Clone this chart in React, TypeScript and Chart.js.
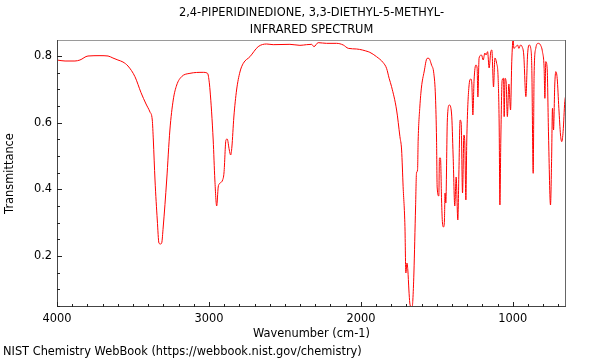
import React, { useEffect, useRef } from 'react';
import { Chart, registerables } from 'chart.js';

Chart.register(...registerables);

const TITLE_LINES = ['2,4-PIPERIDINEDIONE, 3,3-DIETHYL-5-METHYL-', 'INFRARED SPECTRUM'];
const X_TITLE = 'Wavenumber (cm-1)';
const Y_TITLE = 'Transmittance';
const SOURCE_TEXT = 'NIST Chemistry WebBook (https://webbook.nist.gov/chemistry)';

const X_MIN = 650;
const X_MAX = 4000;
const Y_MIN = 0.047;
const Y_MAX = 0.848;

const xMajorTicks = [4000, 3000, 2000, 1000];
const yMajorTicks = [0.2, 0.4, 0.6, 0.8];
const xMinorStep = 100;
const yMinorStep = 0.05;

const wavenumbers = [
  4000, 3947, 3882, 3849, 3796, 3717, 3664, 3632, 3599, 3566, 3533, 3487, 3447, 3414, 3388, 3373,
  3366, 3355, 3340, 3329, 3319, 3311, 3301, 3278, 3257, 3235, 3212, 3180, 3125, 3037, 3013, 3005,
  2993, 2972, 2961, 2949, 2939, 2932, 2910, 2901, 2888, 2880, 2866, 2857, 2849, 2836, 2818, 2796,
  2774, 2730, 2676, 2620, 2577, 2467, 2401, 2357, 2324, 2309, 2281, 2226, 2160, 2116, 2083, 2028,
  1952, 1941, 1897, 1853, 1831, 1814, 1798, 1765, 1743, 1732, 1722, 1710, 1704, 1697, 1691, 1684,
  1678, 1671, 1662, 1658, 1651, 1640, 1634, 1627, 1623, 1612, 1601, 1584, 1564, 1553, 1535, 1520,
  1509, 1502, 1498, 1487, 1483, 1476, 1469, 1463, 1456, 1450, 1446, 1441, 1431, 1418, 1403, 1393,
  1382, 1373, 1362, 1355, 1347, 1340, 1331, 1322, 1316, 1309, 1303, 1289, 1276, 1270, 1263, 1255,
  1243, 1235, 1230, 1222, 1206, 1195, 1184, 1176, 1166, 1156, 1145, 1138, 1127, 1118, 1107, 1097,
  1090, 1085, 1079, 1070, 1061, 1057, 1051, 1044, 1036, 1026, 1015, 1007, 998, 993, 980, 969,
  960, 949, 939, 928, 914, 903, 893, 882, 875, 866, 860, 849, 833, 818, 805, 794,
  789, 783, 774, 765, 752, 745, 739, 732, 724, 717, 708, 697, 686, 678, 669, 658,
  651,
];

const transmittance = [
  0.788, 0.785, 0.785, 0.788, 0.8, 0.801, 0.8, 0.794, 0.788, 0.782, 0.77, 0.738, 0.69, 0.656, 0.632, 0.608,
  0.548, 0.428, 0.308, 0.239, 0.236, 0.239, 0.287, 0.428, 0.578, 0.668, 0.713, 0.738, 0.748, 0.751, 0.749, 0.743,
  0.698, 0.548, 0.428, 0.35, 0.407, 0.416, 0.428, 0.449, 0.548, 0.551, 0.518, 0.503, 0.527, 0.617, 0.698, 0.752,
  0.778, 0.798, 0.828, 0.836, 0.834, 0.835, 0.832, 0.834, 0.835, 0.828, 0.84, 0.838, 0.838, 0.833, 0.823, 0.821,
  0.813, 0.811, 0.798, 0.78, 0.763, 0.733, 0.708, 0.638, 0.558, 0.518, 0.408, 0.288, 0.149, 0.179, 0.158, 0.098,
  0.059, 0.048, 0.048, 0.068, 0.149, 0.347, 0.449, 0.458, 0.548, 0.647, 0.707, 0.752, 0.793, 0.793, 0.773, 0.748,
  0.677, 0.548, 0.407, 0.38, 0.494, 0.494, 0.368, 0.299, 0.287, 0.308, 0.389, 0.359, 0.608, 0.653, 0.626, 0.503,
  0.35, 0.437, 0.308, 0.449, 0.608, 0.599, 0.389, 0.563, 0.539, 0.368, 0.548, 0.707, 0.731, 0.719, 0.623, 0.728,
  0.773, 0.764, 0.677, 0.794, 0.803, 0.788, 0.809, 0.803, 0.813, 0.764, 0.813, 0.818, 0.707, 0.794, 0.779, 0.737,
  0.599, 0.353, 0.548, 0.728, 0.733, 0.618, 0.733, 0.722, 0.618, 0.716, 0.638, 0.783, 0.85, 0.823, 0.828, 0.833,
  0.823, 0.833, 0.828, 0.803, 0.678, 0.803, 0.833, 0.823, 0.763, 0.448, 0.743, 0.823, 0.838, 0.833, 0.813, 0.763,
  0.673, 0.783, 0.763, 0.563, 0.353, 0.483, 0.643, 0.578, 0.713, 0.753, 0.733, 0.643, 0.563, 0.543, 0.573, 0.663,
  0.683,
];

const FONT_FAMILY = '"DejaVu Sans", sans-serif';
const FONT_SIZE = 11.4;

const framePlugin = {
  id: 'frameAndTicks',
  afterDraw(chart: any) {
    const { ctx, chartArea, scales } = chart;
    const { left, right, top, bottom } = chartArea;
    const xs = scales.x;
    const ys = scales.y;
    ctx.save();
    ctx.lineWidth = 1;
    // frame
    ctx.strokeStyle = '#9a9a9a';
    ctx.beginPath();
    ctx.moveTo(left, top + 0.5);
    ctx.lineTo(right, top + 0.5);
    ctx.stroke();
    ctx.strokeStyle = '#666';
    ctx.beginPath();
    ctx.moveTo(right - 0.5, top);
    ctx.lineTo(right - 0.5, bottom);
    ctx.stroke();
    ctx.strokeStyle = '#444';
    ctx.beginPath();
    ctx.moveTo(left + 0.5, top);
    ctx.lineTo(left + 0.5, bottom);
    ctx.moveTo(left, bottom - 0.5);
    ctx.lineTo(right, bottom - 0.5);
    ctx.stroke();
    // ticks (inward)
    ctx.strokeStyle = '#222';
    ctx.beginPath();
    for (let v = X_MAX; v >= X_MIN; v -= xMinorStep) {
      const px = Math.round(xs.getPixelForValue(v)) + 0.5;
      const len = xMajorTicks.includes(v) ? 5 : 3;
      ctx.moveTo(px, bottom);
      ctx.lineTo(px, bottom - len);
    }
    for (let k = 1; k * yMinorStep <= Y_MAX; k++) {
      const v = k * yMinorStep;
      if (v < Y_MIN) continue;
      const py = Math.round(ys.getPixelForValue(v)) + 0.5;
      const major = yMajorTicks.some((m) => Math.abs(m - v) < 1e-6);
      const len = major ? 5 : 3;
      ctx.moveTo(left, py);
      ctx.lineTo(left + len, py);
    }
    ctx.stroke();
    // title
    ctx.fillStyle = '#000';
    ctx.font = FONT_SIZE + 'px ' + FONT_FAMILY;
    ctx.textAlign = 'center';
    ctx.textBaseline = 'middle';
    const cx = (left + right) / 2;
    ctx.fillText(TITLE_LINES[0], cx, 13);
    ctx.fillText(TITLE_LINES[1], cx, 30);
    // source
    ctx.textAlign = 'left';
    ctx.fillText(SOURCE_TEXT, 3, 352.5);
    ctx.restore();
  },
};

export default function App() {
  const canvasRef = useRef<HTMLCanvasElement | null>(null);

  useEffect(() => {
    document.body.style.margin = '0';
    const canvas = canvasRef.current;
    if (!canvas) return;
    Chart.defaults.font.family = FONT_FAMILY;
    const points = wavenumbers.map((w, i) => ({ x: w, y: transmittance[i] }));
    const tickFont = { family: FONT_FAMILY, size: FONT_SIZE };
    const chart = new Chart(canvas, {
      type: 'line',
      data: {
        datasets: [
          {
            data: points,
            borderColor: 'rgb(255,0,0)',
            borderWidth: 1,
            pointRadius: 0,
            fill: false,
            cubicInterpolationMode: 'monotone',
          },
        ],
      },
      options: {
        animation: false,
        responsive: false,
        layout: { padding: { top: 40, right: 34, left: 0, bottom: 0 } },
        plugins: {
          legend: { display: false },
          tooltip: { enabled: false },
          title: { display: false },
        },
        scales: {
          x: {
            type: 'linear',
            reverse: true,
            min: X_MIN,
            max: X_MAX,
            afterBuildTicks: (s: any) => {
              s.ticks = xMajorTicks.map((v) => ({ value: v }));
            },
            afterFit: (s: any) => {
              s.height = 53;
            },
            grid: { display: false, drawTicks: false },
            border: { display: false },
            ticks: {
              padding: 5,
              maxRotation: 0,
              autoSkip: false,
              color: '#000',
              font: tickFont,
              callback: (v: any) => String(v),
            },
            title: {
              display: true,
              text: X_TITLE,
              color: '#000',
              font: tickFont,
              padding: { top: 0, bottom: 19.5 },
            },
          },
          y: {
            type: 'linear',
            min: Y_MIN,
            max: Y_MAX,
            afterBuildTicks: (s: any) => {
              s.ticks = yMajorTicks.map((v) => ({ value: v }));
            },
            afterFit: (s: any) => {
              s.width = 57;
            },
            grid: { display: false, drawTicks: false },
            border: { display: false },
            ticks: {
              padding: 5,
              color: '#000',
              font: tickFont,
              callback: (v: any) => Number(v).toFixed(1),
            },
            title: {
              display: true,
              text: Y_TITLE,
              color: '#000',
              font: tickFont,
              padding: { top: 3.2, bottom: 0 },
            },
          },
        },
      },
      plugins: [framePlugin],
    } as any);
    return () => chart.destroy();
  }, []);

  return <canvas ref={canvasRef} width={600} height={360} style={{ display: 'block' }} />;
}
